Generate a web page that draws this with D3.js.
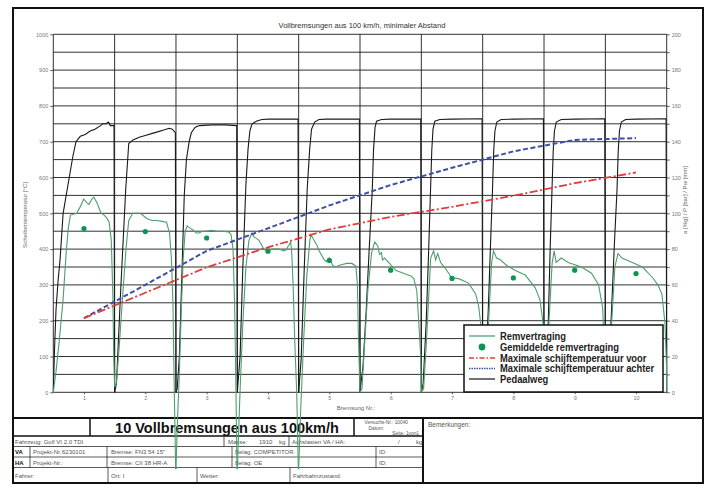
<!DOCTYPE html>
<html>
<head>
<meta charset="utf-8">
<script src="https://cdn.jsdelivr.net/npm/d3@7"></script>
<style>
  body { margin: 0; background: #fff; }
  svg text { font-family: "Liberation Sans", Arial, sans-serif; }
</style>
</head>
<body>
<div id="chart"></div>
<script>
// DATA  (temperatures in degC on left axis, curves in right-axis units)

const brakes = [1, 2, 3, 4, 5, 6, 7, 8, 9, 10];
const leftTicks = [0, 100, 200, 300, 400, 500, 600, 700, 800, 900, 1000];
const rightTicks = [0, 20, 40, 60, 80, 100, 120, 140, 160, 180, 200];

const tempVoor   = [207, 278, 349, 405, 455, 490, 518, 549, 584, 614];
const tempAchter = [207, 300, 395, 458, 522, 579, 627, 673, 705, 710];
const meanDecel  = [91.5, 89.8, 86.2, 78.8, 73.7, 68.2, 63.6, 63.9, 68.2, 66.3];

// pedal travel per brake: [fraction of the brake slot, value]
const pedal1  = [[0,0],[0.02,24],[0.044,46],[0.077,62],[0.11,74],[0.16,100],[0.26,120],[0.32,132],[0.37,140],[0.44,143],[0.52,144],[0.6,146],[0.68,147],[0.77,149],[0.81,150],[0.86,150],[0.9,151],[0.93,149],[0.99,149],[1,0]];
const pedal2  = [[0,0],[0.03,5],[0.1,58],[0.18,113],[0.23,139],[0.3,141],[0.4,142.5],[0.5,143.5],[0.6,144.5],[0.7,145.5],[0.8,146.5],[0.89,147.5],[0.94,147],[0.99,145],[1,0]];
const pedal3  = [[0,0],[0.02,2],[0.055,20],[0.1,70],[0.135,110],[0.17,130],[0.215,140],[0.25,145],[0.31,148],[0.38,149],[0.6,149.4],[0.8,149.4],[0.99,149],[1,0]];
const pedal4  = [[0,0],[0.045,20],[0.09,70],[0.14,116],[0.175,136],[0.205,146],[0.24,150],[0.32,151.6],[0.4,152.4],[0.51,152.6],[0.99,152.6],[1,0]];
const pedal5  = [[0,0],[0.04,18],[0.09,68],[0.14,114],[0.18,136],[0.21,147],[0.26,151],[0.33,152.4],[0.45,152.6],[0.99,152.6],[1,0]];
const pedal6  = [[0,0],[0.05,15],[0.1,45],[0.15,80],[0.2,113],[0.22,135],[0.245,148],[0.27,151.5],[0.35,152.4],[0.5,152.6],[0.99,152.6],[1,0]];
const pedal7  = [[0,0],[0.03,5],[0.08,40],[0.12,80],[0.15,113],[0.17,135],[0.19,147],[0.22,151.5],[0.3,152.4],[0.5,152.6],[0.99,152.8],[1,0]];
const pedal8  = [[0,0],[0.04,8],[0.09,45],[0.13,85],[0.16,113],[0.18,135],[0.2,146],[0.23,151],[0.3,152.4],[0.5,152.6],[0.99,152.8],[1,0]];
const pedal9  = [[0,0],[0.03,6],[0.07,40],[0.1,80],[0.13,113],[0.15,135],[0.17,146],[0.2,151],[0.28,152.4],[0.5,152.6],[0.99,152.8],[1,0]];
const pedal10 = [[0,0],[0.05,10],[0.1,45],[0.15,85],[0.19,113],[0.21,135],[0.23,146],[0.26,151],[0.33,152.4],[0.5,152.6],[0.99,152.8],[1,0]];

// deceleration per brake
const decel1  = [[0,0],[0.045,12],[0.095,28],[0.16,52],[0.21,78],[0.245,92],[0.28,99],[0.38,100],[0.445,104],[0.495,108],[0.545,106],[0.58,105],[0.63,108],[0.66,109],[0.71,106],[0.745,103],[0.78,100],[0.83,99],[0.88,97],[0.91,95],[0.945,85],[0.97,55],[0.985,20],[1,3]];
const decel2  = [[0,3],[0.027,5],[0.074,25],[0.137,57],[0.185,80],[0.23,96],[0.295,100],[0.42,100],[0.53,97],[0.61,96],[0.69,96],[0.77,95.5],[0.847,95],[0.895,89],[0.925,75],[0.95,50],[0.973,0],[0.995,-43]];
const decel3  = [[0,-43],[0.02,-20],[0.054,10],[0.086,45],[0.118,75],[0.15,90],[0.183,93],[0.216,92],[0.265,91],[0.33,89],[0.378,89],[0.427,90],[0.49,90],[0.573,90.5],[0.67,90],[0.784,90],[0.865,89.5],[0.898,88],[0.93,80],[0.955,50],[0.97,20],[0.995,-43]];
const decel4  = [[0,-43],[0.044,0],[0.092,40],[0.14,70],[0.19,85],[0.238,89],[0.27,87],[0.35,85],[0.4,82],[0.43,80],[0.48,79],[0.51,79.5],[0.595,80],[0.676,80],[0.757,79],[0.79,79.5],[0.838,82],[0.87,84],[0.887,78],[0.91,60],[0.935,30],[0.968,0],[0.995,-43]];
const decel5  = [[0,-43],[0.033,-10],[0.083,30],[0.133,65],[0.183,85],[0.2,88],[0.25,85],[0.3,82],[0.333,79],[0.383,76],[0.417,74],[0.45,73],[0.5,75],[0.533,73],[0.55,71],[0.6,70],[0.667,71],[0.783,72],[0.867,72],[0.933,70.5],[0.958,60],[0.975,30],[1,0]];
const decel6  = [[0,0],[0.032,2],[0.08,30],[0.128,57],[0.19,78],[0.24,84],[0.287,82],[0.32,77],[0.35,78],[0.367,74],[0.4,75],[0.48,72],[0.59,68],[0.75,66],[0.83,65],[0.877,63.5],[0.925,57],[0.957,40],[0.99,20],[1,0]];
const decel7  = [[0,0],[0.037,2],[0.086,30],[0.152,75],[0.2,79],[0.233,74],[0.266,77.5],[0.315,72.5],[0.396,69],[0.494,64],[0.608,63.5],[0.77,61],[0.886,55],[0.935,48],[0.967,38.5],[0.99,15],[1,0]];
const decel8  = [[0,0],[0.048,2],[0.097,40],[0.145,72],[0.177,79],[0.226,75],[0.29,74],[0.387,71],[0.532,68],[0.694,65.5],[0.855,58.5],[0.935,51.5],[0.984,38.5],[1,0]];
const decel9  = [[0,0],[0.033,2],[0.082,40],[0.132,72],[0.165,79],[0.198,72.5],[0.28,75],[0.395,72.5],[0.61,70],[0.774,66.5],[0.89,60],[0.956,47],[0.99,20],[1,0]];
const decel10 = [[0,0],[0.038,2],[0.105,40],[0.155,70],[0.205,77.5],[0.272,75],[0.438,72.5],[0.605,70],[0.772,64],[0.855,60],[0.922,55],[0.972,38.5],[0.997,15],[1,0]];

const pedalRuns = [pedal1, pedal2, pedal3, pedal4, pedal5, pedal6, pedal7, pedal8, pedal9, pedal10];
const decelRuns = [decel1, decel2, decel3, decel4, decel5, decel6, decel7, decel8, decel9, decel10];

const legendItems = ['Remvertraging', 'Gemiddelde remvertraging', 'Maximale schijftemperatuur voor', 'Maximale schijftemperatuur achter', 'Pedaalweg'];

// SETUP

const W = 712, H = 486;
const plot = { left: 53.3, right: 666.7, top: 34.3, bottom: 392.3 };

const svg = d3.select('#chart').append('svg')
    .attr('width', W).attr('height', H);

svg.append('rect').attr('width', W).attr('height', H).attr('fill', '#fff');

const x = d3.scaleLinear().domain([0.5, 10.5]).range([plot.left, plot.right]);
const yL = d3.scaleLinear().domain([0, 1000]).range([plot.bottom, plot.top]);
const yR = d3.scaleLinear().domain([0, 200]).range([plot.bottom, plot.top]);

// GRID
const grid = svg.append('g').attr('stroke', '#1a1a1a').attr('stroke-width', 0.9);
grid.selectAll('line.h')
    .data(d3.range(0, 1001, 50))
    .enter().append('line')
    .attr('x1', plot.left).attr('x2', plot.right)
    .attr('y1', d => yL(d)).attr('y2', d => yL(d));
grid.selectAll('line.v')
    .data(d3.range(0.5, 10.6, 1))
    .enter().append('line')
    .attr('x1', d => x(d)).attr('x2', d => x(d))
    .attr('y1', plot.top).attr('y2', plot.bottom);

// AXES
const styleAxis = g => {
    g.select('.domain').remove();
    g.selectAll('line').attr('stroke', '#333').attr('stroke-width', 0.8);
    g.selectAll('text').attr('fill', '#777').style('font-size', '5.5px');
};

svg.append('g')
    .attr('transform', `translate(${plot.left},0)`)
    .call(d3.axisLeft(yL).tickValues(leftTicks).tickSize(3).tickPadding(2).tickFormat(d3.format('d')))
    .call(styleAxis);

svg.append('g')
    .attr('transform', `translate(${plot.right},0)`)
    .call(d3.axisRight(yR).tickValues(d3.range(0, 201, 10)).tickSize(3).tickPadding(2)
        .tickFormat(d => rightTicks.includes(d) ? d : ''))
    .call(styleAxis);

svg.append('g')
    .attr('transform', `translate(0,${plot.bottom})`)
    .call(d3.axisBottom(x).tickValues(brakes).tickSize(2).tickPadding(2))
    .call(styleAxis);

svg.append('text')
    .attr('transform', 'translate(27,215) rotate(-90)')
    .attr('text-anchor', 'middle').attr('fill', '#666').style('font-size', '6px')
    .text('Scheibentemperatur [°C]');

svg.append('text')
    .attr('transform', 'translate(687,200) rotate(-90)')
    .attr('text-anchor', 'middle').attr('fill', '#666').style('font-size', '6px')
    .text('a [%g] / P [bar] / Pw [mm]');

svg.append('text')
    .attr('x', 356).attr('y', 410)
    .attr('text-anchor', 'middle').attr('fill', '#666').style('font-size', '6px')
    .text('Bremsung Nr.:');

svg.append('text')
    .attr('x', 362).attr('y', 28)
    .attr('text-anchor', 'middle').attr('fill', '#333').style('font-size', '7.5px')
    .text('Vollbremsungen aus 100 km/h, minimaler Abstand');

// TABLE
const tl = (x1, y1, x2, y2, w) => svg.append('line')
    .attr('x1', x1).attr('y1', y1).attr('x2', x2).attr('y2', y2)
    .attr('stroke', '#111').attr('stroke-width', w);
const tt = (txt, tx, ty, size, opts = {}) => svg.append('text')
    .attr('x', tx).attr('y', ty)
    .attr('text-anchor', opts.anchor || 'start')
    .attr('fill', opts.fill || '#555')
    .attr('font-weight', opts.bold ? 'bold' : 'normal')
    .style('font-size', size + 'px')
    .text(txt);

const rows = [436, 446.5, 457, 467.5, 483];
tl(13, 418, 703, 418, 2);
tl(90, 418, 90, rows[0], 1.5);
tl(354, 418, 354, rows[0], 1.5);
tl(423, 418, 423, 483, 2);
tl(13, rows[0], 423, rows[0], 1.5);
[rows[1], rows[2], rows[3]].forEach(r => tl(13, r, 423, r, 0.7));
[224, 289].forEach(v => tl(v, rows[0], v, rows[1], 0.7));
[30, 107, 232, 376].forEach(v => tl(v, rows[1], v, rows[3], 0.7));
[108, 197, 290].forEach(v => tl(v, rows[3], v, rows[4], 0.7));

tt('10 Vollbremsungen aus 100km/h', 227, 433, 14.5, { anchor: 'middle', bold: true, fill: '#111' });
tt('Versuchs-Nr.: 10040', 408, 423.5, 4.8, { anchor: 'end' });
tt('Datum:', 384, 429.5, 4.8, { anchor: 'end' });
tt('Seite: 1von1', 419, 435, 4.8, { anchor: 'end' });
tt('Bemerkungen:', 428, 427, 6.5);

tt('Fahrzeug: Golf VI 2.0 TDI', 15, 443.5, 6);
tt('Masse:', 228, 443.5, 6);
tt('1910', 259, 443.5, 6);
tt('kg', 279, 443.5, 6);
tt('Achslasten VA / HA:', 292, 443.5, 6);
tt('/', 398, 443.5, 6);
tt('kg', 416, 443.5, 6);

tt('VA', 15, 454, 6, { bold: true, fill: '#111' });
tt('Projekt-Nr.:', 33, 454, 6);
tt('6230101', 62, 454, 6);
tt('Bremse: FN3 54 15"', 111, 454, 6);
tt('Belag: COMPETITOR', 235, 454, 6);
tt('ID:', 379, 454, 6);

tt('HA', 15, 464.5, 6, { bold: true, fill: '#111' });
tt('Projekt-Nr.:', 33, 464.5, 6);
tt('Bremse: CII 38 HR-A', 111, 464.5, 6);
tt('Belag: OE', 235, 464.5, 6);
tt('ID:', 379, 464.5, 6);

tt('Fahrer:', 15, 477.5, 6);
tt('Ort: I', 111, 477.5, 6);
tt('Wetter:', 200, 477.5, 6);
tt('Fahrbahnzustand:', 293, 477.5, 6);

// CURVES
const runLine = (brake) => d3.line()
    .x(d => x(brake - 0.5 + d[0]))
    .y(d => yR(d[1]));

svg.append('g').selectAll('path')
    .data(pedalRuns)
    .enter().append('path')
    .attr('d', (d, i) => runLine(brakes[i])(d))
    .attr('fill', 'none').attr('stroke', '#1a1a1a').attr('stroke-width', 1.1);

svg.append('g').selectAll('path')
    .data(decelRuns)
    .enter().append('path')
    .attr('d', (d, i) => runLine(brakes[i])(d))
    .attr('fill', 'none').attr('stroke', '#4e9e6c').attr('stroke-width', 1.1);

svg.append('path')
    .datum(tempAchter)
    .attr('d', d3.line().x((d, i) => x(brakes[i])).y(d => yL(d)))
    .attr('fill', 'none').attr('stroke', '#3e4fa6').attr('stroke-width', 2)
    .attr('stroke-dasharray', '5,2.5');

svg.append('path')
    .datum(tempVoor)
    .attr('d', d3.line().x((d, i) => x(brakes[i])).y(d => yL(d)))
    .attr('fill', 'none').attr('stroke', '#e23b3b').attr('stroke-width', 1.8)
    .attr('stroke-dasharray', '8,2.5,2,2.5');

svg.append('g').selectAll('circle')
    .data(meanDecel)
    .enter().append('circle')
    .attr('cx', (d, i) => x(brakes[i]))
    .attr('cy', d => yR(d))
    .attr('r', 2.6)
    .attr('fill', '#0a9650');

// LEGEND
const lg = svg.append('g').attr('transform', 'translate(464,325)');
lg.append('rect').attr('width', 199).attr('height', 67)
    .attr('fill', '#fff').attr('stroke', '#111').attr('stroke-width', 1.5);

const lgY = [11, 22, 33, 43.5, 54];
const sample = [
    { stroke: '#3f9a63', dash: null, w: 1.2 },
    null,
    { stroke: '#e23b3b', dash: '5,2,1.5,2', w: 1.5 },
    { stroke: '#3e4fa6', dash: '1.5,1', w: 1.5 },
    { stroke: '#111', dash: null, w: 1.2 }
];
legendItems.forEach((name, i) => {
    if (sample[i]) {
        lg.append('line')
            .attr('x1', 5).attr('x2', 31).attr('y1', lgY[i]).attr('y2', lgY[i])
            .attr('stroke', sample[i].stroke).attr('stroke-width', sample[i].w)
            .attr('stroke-dasharray', sample[i].dash);
    } else {
        lg.append('circle').attr('cx', 18).attr('cy', lgY[i]).attr('r', 3.4).attr('fill', '#0a9650');
    }
    // reference face is narrower than Liberation Sans bold, squeeze it horizontally
    lg.append('text')
        .attr('transform', `translate(36,${lgY[i] + 3.6}) scale(0.9,1)`)
        .attr('fill', '#222')
        .attr('font-weight', 'bold')
        .style('font-size', '10.4px')
        .text(name);
});

// FRAME
svg.append('rect')
    .attr('x', 13).attr('y', 8).attr('width', 690).attr('height', 475)
    .attr('fill', 'none').attr('stroke', '#111').attr('stroke-width', 2);
</script>
</body>
</html>
